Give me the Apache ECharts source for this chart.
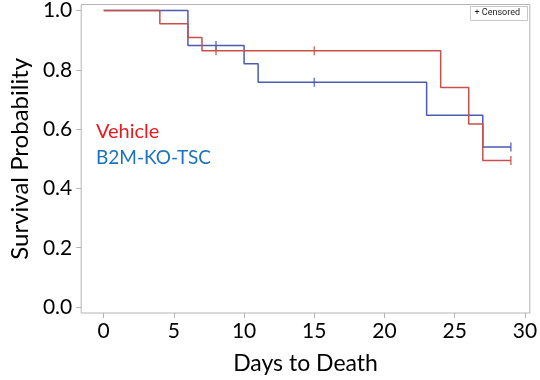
<!DOCTYPE html>
<html>
<head>
<meta charset="utf-8">
<script src="https://cdn.jsdelivr.net/npm/echarts@6/dist/echarts.min.js"></script>
<style>
  html, body { margin: 0; padding: 0; background: #fff; }
  #main { width: 540px; height: 380px; }
</style>
</head>
<body>
<div id="main"></div>
<script>
// Kaplan-Meier steps
var vehicleDays = [0, 4, 6, 7, 24, 26, 27, 29];
var vehicleSurv = [1.0, 0.955, 0.909, 0.864, 0.740, 0.617, 0.494, 0.494];
var vehicleCensored = [8, 15, 29];

var tscDays = [0, 6, 10, 11, 23, 27, 29];
var tscSurv = [1.0, 0.882, 0.820, 0.758, 0.647, 0.540, 0.540];
var tscCensored = [8, 15, 29];

var xTicks = [0, 5, 10, 15, 20, 25, 30];
var yTicks = [0, 0.2, 0.4, 0.6, 0.8, 1.0];

var redLine = '#c8504c';
var blueLine = '#4a5bb0';
var gray = '#b4b4b4';
var font = 'Lato';

function zip(xs, ys) {
  return xs.map(function (x, i) { return [x, ys[i]]; });
}

// survival value at day t (for placing censor ticks on the curve)
function survAt(days, surv, t) {
  var s = surv[0];
  for (var i = 0; i < days.length; i++) {
    if (days[i] <= t) s = surv[i];
  }
  return s;
}

function censorPoints(days, surv, cens) {
  return cens.map(function (t) { return [t, survAt(days, surv, t)]; });
}

var dom = document.getElementById('main');
var myChart = echarts.init(dom, null, { renderer: 'canvas' });

var option = {
  animation: false,
  grid: {
    left: 72, top: 3, right: 7, bottom: 65,
    show: true, borderColor: gray, borderWidth: 1
  },
  xAxis: {
    type: 'value',
    min: -1.6,
    max: 30.35,
    name: 'Days to Death',
    nameLocation: 'middle',
    nameGap: 39,
    nameTextStyle: { fontFamily: font, fontSize: 23, color: '#000' },
    axisLine: { show: false, onZero: false },
    splitLine: { show: false },
    axisTick: { show: true, length: 5, lineStyle: { color: gray }, customValues: xTicks },
    axisLabel: { fontFamily: font, fontSize: 21, color: '#000', margin: 8, customValues: xTicks }
  },
  yAxis: {
    type: 'value',
    min: -0.02,
    max: 1.02,
    name: 'Survival Probability',
    nameLocation: 'middle',
    nameGap: 48,
    nameTextStyle: { fontFamily: font, fontSize: 24, color: '#000' },
    axisLine: { show: false, onZero: false },
    splitLine: { show: false },
    axisTick: { show: true, length: 5, lineStyle: { color: gray }, customValues: yTicks },
    axisLabel: {
      fontFamily: font, fontSize: 21, color: '#000', margin: 9,
      customValues: yTicks,
      formatter: function (v) { return v.toFixed(1); }
    }
  },
  series: [
    {
      name: 'B2M-KO-TSC',
      type: 'line',
      step: 'end',
      symbol: 'none',
      lineStyle: { color: blueLine, width: 1.5 },
      data: zip(tscDays, tscSurv)
    },
    {
      name: 'Vehicle',
      type: 'line',
      step: 'end',
      symbol: 'none',
      lineStyle: { color: redLine, width: 1.5 },
      data: zip(vehicleDays, vehicleSurv)
    },
    {
      type: 'scatter',
      symbol: 'rect',
      symbolSize: [1.5, 9],
      itemStyle: { color: blueLine },
      data: censorPoints(tscDays, tscSurv, tscCensored)
    },
    {
      type: 'scatter',
      symbol: 'rect',
      symbolSize: [1.5, 9],
      itemStyle: { color: redLine },
      data: censorPoints(vehicleDays, vehicleSurv, vehicleCensored)
    }
  ],
  graphic: [
    {
      type: 'text', left: 96, top: 122,
      style: { text: 'Vehicle', fill: '#e8191f', font: '20px Lato' }
    },
    {
      type: 'text', left: 96, top: 148,
      style: { text: 'B2M-KO-TSC', fill: '#1b72c0', font: '19px Lato' }
    },
    {
      type: 'group', right: 12, top: 6,
      children: [
        { type: 'rect', shape: { x: 0, y: 0, width: 57, height: 14 },
          style: { fill: '#fff', stroke: '#c8c8c8', lineWidth: 1 } },
        { type: 'text', x: 4, y: 2,
          style: { text: '+ Censored', fill: '#222', font: '9px Roboto' } }
      ]
    }
  ]
};

myChart.setOption(option);
window.addEventListener('resize', myChart.resize);
</script>
</body>
</html>
